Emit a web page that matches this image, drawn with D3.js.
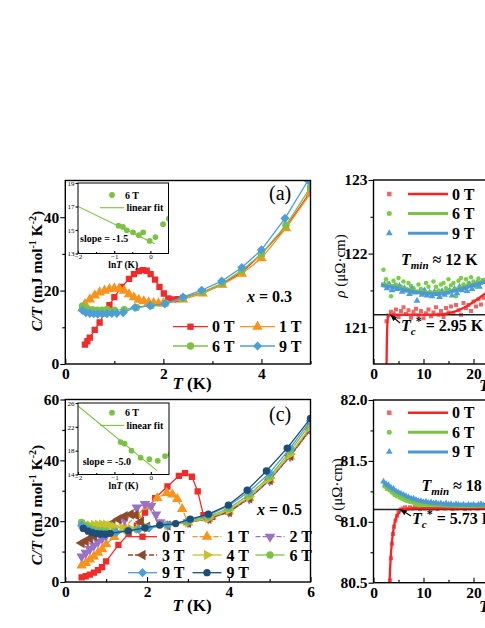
<!DOCTYPE html>
<html><head><meta charset="utf-8">
<script src="https://cdn.jsdelivr.net/npm/d3@7"></script>
<style>body{margin:0;background:#fff}</style>
</head><body><svg id="c" width="485" height="628"></svg>
<script>
// ---------- Panel (a): x = 0.3, C/T vs T ----------
const a_T0 = [0.40,0.45,0.50,0.60,0.70,0.80,0.90,1.00,1.15,1.30,1.40,1.50,1.58,1.66,1.74,1.83,1.92,2.01,2.10,2.20,2.30,2.40,2.80,3.20,3.60,4.00,4.50,5.00];
const a_C0 = [5.3,6.2,7.2,9.3,11.3,13.8,16.0,18.2,21.0,23.2,24.5,25.3,25.6,25.4,24.5,23.0,21.0,19.2,17.9,17.6,17.7,18.0,19.6,21.8,25.0,30.0,37.3,47.0];
const a_T1 = [0.35,0.40,0.50,0.60,0.70,0.80,0.90,1.00,1.10,1.20,1.30,1.40,1.50,1.60,1.70,1.80,1.90,2.00,2.40,2.80,3.20,3.60,4.00,4.50,5.00];
const a_C1 = [15.2,16.3,17.6,18.7,19.5,20.0,20.4,20.6,20.5,20.0,19.0,18.2,17.5,17.1,16.8,16.6,16.5,16.5,17.6,19.2,21.6,24.6,28.8,37.0,46.5];
const a_T6 = [0.35,0.45,0.55,0.65,0.75,0.85,1.00,1.20,1.45,1.75,2.05,2.40,2.80,3.20,3.60,4.00,4.50,5.00];
const a_C6 = [15.8,15.0,14.8,14.7,14.7,14.9,14.7,14.8,15.4,15.9,16.6,17.9,19.6,22.0,25.5,30.0,37.8,48.2];
const a_T9 = [0.35,0.42,0.50,0.58,0.66,0.75,0.85,0.95,1.05,1.18,1.42,1.73,2.03,2.40,2.78,3.19,3.60,4.00,4.48,4.95];
const a_C9 = [14.6,14.0,13.8,13.7,13.6,13.7,13.7,13.8,13.8,14.0,15.4,15.9,16.4,18.2,20.1,22.6,26.3,31.1,39.7,50.0];
// inset (a): 6 T, C/T vs lnT
const a_inLnT = [-0.88,-0.76,-0.65,-0.48,-0.32,-0.20,-0.02,0.14,0.35,0.51];
const a_inC = [15.37,15.26,14.97,14.80,14.56,14.80,14.07,14.40,15.50,15.96];
const a_fitLnT = [-2.0,0.12];
const a_fitC = [17.0,13.82];

// ---------- Panel (c): x = 0.5 ----------
const c_T0 = [0.40,0.50,0.60,0.70,0.80,0.90,1.00,1.30,1.55,1.75,1.95,2.20,2.50,2.78,2.93,3.10,3.24,3.38,3.60,4.00,4.50,5.00,5.50,6.00];
const c_C0 = [1.5,1.9,2.4,3.1,3.9,4.9,6.8,12.2,15.8,18.5,22.8,27.6,31.4,34.9,35.8,34.6,29.8,22.0,21.4,23.2,27.8,33.8,41.5,50.5];
const c_T1 = [0.40,0.50,0.60,0.70,0.80,0.90,1.00,1.20,1.45,1.75,2.00,2.25,2.48,2.62,2.74,2.86,3.00,3.50,4.00,4.50,5.00,5.50,6.00];
const c_C1 = [5.4,6.3,7.4,8.4,9.6,10.8,12.4,14.8,18.0,22.0,24.8,27.6,29.3,28.8,27.3,24.0,19.6,20.8,23.2,27.6,33.6,41.3,50.0];
const c_T2 = [0.40,0.50,0.60,0.70,0.80,0.90,1.00,1.20,1.45,1.75,1.95,2.10,2.22,2.32,2.50,3.00,3.50,4.00,4.50,5.00,5.50,6.00];
const c_C2 = [8.4,9.6,10.8,12.0,13.2,14.3,15.3,17.5,20.6,24.5,25.6,25.0,22.2,19.6,18.8,19.6,20.8,23.0,27.4,33.4,41.3,50.0];
const c_T3 = [0.40,0.50,0.60,0.70,0.80,0.90,1.00,1.15,1.30,1.45,1.60,1.72,1.85,2.00,2.50,3.00,3.50,4.00,4.50,5.00,5.50,6.00];
const c_C3 = [12.8,13.4,14.3,15.2,16.0,16.9,17.8,19.3,20.6,21.6,22.3,22.0,19.8,18.2,18.6,19.5,20.8,23.0,27.5,33.5,41.5,50.2];
const c_T4 = [0.40,0.50,0.60,0.70,0.80,0.90,1.00,1.10,1.20,1.40,1.60,1.80,2.00,2.50,3.00,3.50,4.00,4.50,5.00,5.50,6.00];
const c_C4 = [19.0,18.6,18.6,18.7,18.8,18.9,18.8,18.6,18.2,17.6,17.4,17.5,17.8,18.7,19.6,21.0,23.6,28.0,34.0,42.0,51.0];
const c_T6 = [0.40,0.50,0.60,0.70,0.80,0.90,1.00,1.20,1.50,1.75,2.00,2.50,3.00,3.50,4.00,4.50,5.00,5.50,6.00];
const c_C6 = [19.6,18.6,17.8,17.3,17.0,16.8,16.7,16.6,16.8,17.3,17.7,18.8,19.9,21.4,24.2,28.7,34.6,43.0,52.0];
const c_T9a = [0.40,0.50,0.60,0.70,0.80,0.90,1.00,1.25,1.55,1.80,2.05,2.50,3.00,3.50,4.00,4.50,5.00,5.50,6.00];
const c_C9a = [18.6,17.6,16.9,16.4,16.1,15.9,15.9,16.3,16.9,17.3,17.8,18.8,20.2,22.0,25.0,29.8,35.8,44.0,53.0];
const c_T9b = [0.44,0.56,0.66,0.77,0.87,0.97,1.10,1.54,1.95,2.31,2.70,3.06,3.50,3.99,4.45,4.92,5.43,6.00];
const c_C9b = [17.6,16.7,16.2,15.9,15.8,15.7,16.0,16.8,17.8,18.7,19.2,20.7,22.3,25.3,30.2,36.5,44.0,53.8];
const c_inLnT = [-0.83,-0.72,-0.53,-0.28,-0.04,0.19,0.39,0.54];
const c_inC = [19.44,19.17,18.00,16.83,16.56,16.30,17.10,17.40];
const c_fitLnT = [-2.0,0.17];
const c_fitC = [25.5,14.65];

// ---------- Panel (b): resistivity, x = 0.3 ----------
const b_T0 = [2.6,3.0,3.5,4.0,4.5,5.0,5.5,6.0,6.5,7.0,7.5,8.0,8.5,9.0,9.5,10.0,10.5,11.0,11.5,12.0,12.5,13.0,13.5,14.0,14.5,15.0,15.5,16.0,16.5,17.0,17.5,18.0,18.5,19.0,19.5,20.0,20.5,21.0,21.5,22.0];
const b_R0 = [121.08,121.16,121.21,121.19,121.24,121.14,121.22,121.27,121.18,121.23,121.13,121.21,121.25,121.16,121.22,121.12,121.19,121.24,121.15,121.20,121.27,121.17,121.22,121.14,121.26,121.20,121.28,121.19,121.30,121.23,121.17,121.33,121.26,121.30,121.22,121.35,121.28,121.38,121.31,121.40];
const b_T6 = [2.0,2.5,3.0,3.5,4.0,4.5,5.0,5.5,6.0,6.5,7.0,7.5,8.0,8.5,9.0,9.5,10.0,10.5,11.0,11.5,12.0,12.5,13.0,13.5,14.0,14.5,15.0,15.5,16.0,16.5,17.0,17.5,18.0,18.5,19.0,19.5,20.0,20.5,21.0,21.5,22.0];
const b_R6 = [121.78,121.65,121.60,121.42,121.63,121.58,121.67,121.55,121.62,121.50,121.60,121.56,121.53,121.48,121.58,121.52,121.50,121.60,121.55,121.47,121.62,121.55,121.50,121.58,121.60,121.53,121.65,121.57,121.60,121.42,121.63,121.67,121.58,121.65,121.60,121.68,121.62,121.55,121.66,121.60,121.64];
const b_T9 = [2.2,2.7,3.2,3.7,4.2,4.7,5.2,5.7,6.2,6.7,7.2,7.7,8.2,8.7,9.2,9.7,10.2,10.7,11.2,11.7,12.2,12.7,13.2,13.7,14.2,14.7,15.2,15.7,16.2,16.7,17.2,17.7,18.2,18.7,19.2,19.7,20.2,20.7,21.2,21.7];
const b_R9 = [121.58,121.53,121.57,121.50,121.55,121.52,121.56,121.48,121.53,121.50,121.45,121.52,121.47,121.36,121.48,121.44,121.50,121.43,121.47,121.42,121.48,121.45,121.41,121.49,121.44,121.47,121.50,121.43,121.52,121.46,121.55,121.50,121.53,121.49,121.58,121.52,121.57,121.60,121.55,121.62];
const b_fT0 = [2.60,2.65,2.75,2.90,3.20,6,10,13,15,17,19,21,23,25];
const b_fR0 = [120.40,120.70,121.00,121.14,121.17,121.17,121.17,121.17,121.19,121.23,121.30,121.39,121.49,121.60];
const b_fT = [1.5,4,6,8,10,12,14,16,18,20,22,24];
const b_fR6 = [121.59,121.56,121.53,121.50,121.48,121.47,121.48,121.51,121.55,121.59,121.63,121.68];
const b_fR9 = [121.57,121.54,121.51,121.48,121.46,121.45,121.46,121.49,121.53,121.57,121.61,121.66];
const b_Tc = 121.17;

// ---------- Panel (d): resistivity, x = 0.5 ----------
const d_T0 = [3.3,3.5,3.7,3.9,4.1,4.4,4.7,5.0,5.4,5.8,6.3,6.8,7.3,7.8,8.3,8.8,9.3,9.8,10.3,10.8,11.3,11.8,12.3,12.8,13.3,13.8,14.3,14.8,15.3,15.8,16.3,16.8,17.3,17.8,18.3,18.8,19.3,19.8,20.3,20.8,21.3,21.8];
const d_R0 = [80.52,80.70,80.82,80.90,80.96,81.01,81.05,81.08,81.10,81.11,81.12,81.105,81.12,81.11,81.125,81.115,81.105,81.12,81.11,81.125,81.115,81.11,81.12,81.105,81.12,81.115,81.11,81.125,81.115,81.105,81.12,81.11,81.12,81.115,81.105,81.12,81.11,81.125,81.115,81.11,81.12,81.115];
const d_T6 = [2.2,2.7,3.2,3.7,4.2,4.7,5.2,5.7,6.2,6.7,7.2,7.7,8.2,8.7,9.2,9.7,10.2,10.7,11.2,11.7,12.2,12.7,13.2,13.7,14.2,14.7,15.2,15.7,16.2,16.7,17.2,17.7,18.2,18.7,19.2,19.7,20.2,20.7,21.2,21.7];
const d_R6 = [81.29,81.27,81.26,81.24,81.22,81.21,81.20,81.19,81.18,81.17,81.165,81.16,81.15,81.145,81.13,81.14,81.135,81.13,81.135,81.13,81.125,81.13,81.125,81.13,81.12,81.125,81.13,81.12,81.125,81.12,81.125,81.12,81.125,81.12,81.125,81.12,81.125,81.12,81.125,81.12];
const d_T9 = [2.0,2.5,3.0,3.5,4.0,4.5,5.0,5.5,6.0,6.5,7.0,7.5,8.0,8.5,9.0,9.5,10.0,10.5,11.0,11.5,12.0,12.5,13.0,13.5,14.0,14.5,15.0,15.5,16.0,16.5,17.0,17.5,18.0,18.5,19.0,19.5,20.0,20.5,21.0,21.5,22.0];
const d_R9 = [81.33,81.31,81.30,81.28,81.27,81.25,81.24,81.23,81.22,81.21,81.20,81.19,81.19,81.18,81.17,81.17,81.16,81.165,81.155,81.16,81.15,81.155,81.145,81.15,81.14,81.15,81.14,81.145,81.135,81.145,81.14,81.135,81.14,81.13,81.14,81.135,81.14,81.13,81.14,81.145,81.135];
const d_fT0 = [3.20,3.40,3.70,4.00,4.50,5.00,5.70,8,12,16,20,24];
const d_fR0 = [80.50,80.68,80.84,80.94,81.03,81.07,81.10,81.11,81.11,81.11,81.11,81.11];
const d_fT = [2,3,4,5,6,7,8,10,12,14,16,18,20,22,24];
const d_fR6 = [81.30,81.27,81.245,81.22,81.20,81.18,81.165,81.148,81.138,81.132,81.128,81.126,81.126,81.127,81.13];
const d_fR9 = [81.32,81.29,81.265,81.24,81.22,81.20,81.185,81.165,81.152,81.145,81.14,81.137,81.137,81.139,81.142];
const d_Tc = 81.10;

// ---------- drawing ----------
const FONT = '"Liberation Serif","Times New Roman",serif';
const svg = d3.select('#c').attr('font-family', FONT);
svg.append('rect').attr('width',485).attr('height',628).attr('fill','#fff');
const defs = svg.append('defs');
defs.append('marker').attr('id','arr').attr('viewBox','0 0 10 10').attr('refX',9).attr('refY',5)
  .attr('markerWidth',7).attr('markerHeight',7).attr('markerUnits','userSpaceOnUse').attr('orient','auto')
  .append('path').attr('d','M0,1L10,5L0,9z').attr('fill','#000');

const symType = {square:[d3.symbolSquare,0], circle:[d3.symbolCircle,0], up:[d3.symbolTriangle,0],
  down:[d3.symbolTriangle,180], left:[d3.symbolTriangle,-90], right:[d3.symbolTriangle,90], diamond:[d3.symbolSquare,45]};
function sym(g, kind, cx, cy, size, color){
  const [t, r] = symType[kind];
  g.append('path').attr('d', d3.symbol().type(t).size(size)())
    .attr('transform', `translate(${cx},${cy}) rotate(${r})`).attr('fill', color);
}

function panel(o){
  const x = d3.scaleLinear().domain(o.xd).range([o.l,o.r]);
  const y = d3.scaleLinear().domain(o.yd).range([o.b,o.t]);
  const cid = 'cl'+o.id;
  defs.append('clipPath').attr('id',cid).append('rect').attr('x',o.l).attr('y',o.t).attr('width',o.r-o.l).attr('height',o.b-o.t);
  const dg = svg.append('g').attr('clip-path',`url(#${cid})`);
  const g = svg.append('g');
  const ts = o.ts || 1;
  g.append('g').attr('transform',`translate(0,${o.b})`)
    .call(d3.axisBottom(x).tickValues(o.xminor).tickSizeInner(-3*ts).tickSizeOuter(0).tickFormat(''));
  g.append('g').attr('transform',`translate(${o.l},0)`)
    .call(d3.axisLeft(y).tickValues(o.yminor).tickSizeInner(3*ts).tickSizeOuter(0).tickFormat(''));
  g.append('g').attr('class','xa').attr('transform',`translate(0,${o.b})`)
    .call(d3.axisBottom(x).tickValues(o.xmajor).tickSizeInner(-5*ts).tickSizeOuter(0).tickPadding(o.xpad).tickFormat(o.xfmt));
  g.append('g').attr('class','ya').attr('transform',`translate(${o.l},0)`)
    .call(d3.axisLeft(y).tickValues(o.ymajor).tickSizeInner(5*ts).tickSizeOuter(0).tickPadding(o.ypad).tickFormat(o.yfmt));
  g.selectAll('.domain').remove();
  g.selectAll('.tick line').attr('stroke','#000').attr('stroke-width',1.1);
  g.selectAll('.tick text').attr('font-family',FONT).attr('fill','#000')
    .attr('font-weight',o.tw||'bold').attr('font-size',o.tf||15.5);
  g.append('rect').attr('x',o.l).attr('y',o.t).attr('width',o.r-o.l).attr('height',o.b-o.t)
    .attr('fill','none').attr('stroke','#000').attr('stroke-width',o.fw||1.4);
  return {x,y,g,dg};
}

function curve(P, T, V, s){
  const pts = T.map((t,i)=>[t,V[i]]);
  P.dg.append('path').datum(pts).attr('fill','none').attr('stroke',s.color).attr('stroke-width',1.3)
    .attr('stroke-dasharray',s.dash||null)
    .attr('d', d3.line().x(d=>P.x(d[0])).y(d=>P.y(d[1])));
  pts.forEach(d=>sym(P.dg, s.sym, P.x(d[0]), P.y(d[1]), s.size||40, s.color));
}
function scatter(P, T, V, s){
  T.forEach((t,i)=>sym(P.dg, s.sym, P.x(t), P.y(V[i]), s.size, s.color));
}
function fitline(P, T, V, color, w, op){
  P.dg.append('path').datum(T.map((t,i)=>[t,V[i]])).attr('fill','none').attr('stroke',color)
    .attr('stroke-width',w).attr('stroke-opacity',op||1).attr('stroke-linejoin','round')
    .attr('d', d3.line().curve(d3.curveMonotoneX).x(d=>P.x(d[0])).y(d=>P.y(d[1])));
}
function ctLabel(x, y){
  const t = svg.append('text').attr('transform',`translate(${x},${y}) rotate(-90)`).attr('text-anchor','middle')
    .attr('font-weight','bold').attr('font-size',15.5);
  t.append('tspan').attr('font-style','italic').text('C/T');
  t.append('tspan').text(' (mJ mol');
  t.append('tspan').attr('font-size',10).attr('dy',-6).text('-1');
  t.append('tspan').attr('dy',6).text(' K');
  t.append('tspan').attr('font-size',10).attr('dy',-6).text('-2');
  t.append('tspan').attr('dy',6).text(')');
}
function rhoLabel(x, y){
  const t = svg.append('text').attr('transform',`translate(${x},${y}) rotate(-90)`).attr('text-anchor','middle')
    .attr('font-size',15);
  t.append('tspan').attr('font-style','italic').text('ρ');
  t.append('tspan').text(' (μΩ·cm)');
}
function tkLabel(x, y){
  const t = svg.append('text').attr('x',x).attr('y',y).attr('text-anchor','middle').attr('font-weight','bold').attr('font-size',17);
  t.append('tspan').attr('font-style','italic').text('T');
  t.append('tspan').text(' (K)');
}
function xLabel(x, y, v){
  const t = svg.append('text').attr('x',x).attr('y',y).attr('font-weight','bold').attr('font-size',16);
  t.append('tspan').attr('font-style','italic').text('x');
  t.append('tspan').text(' = '+v);
}
function inset(o, LnT, C, fitX, fitY, slope){
  svg.append('rect').attr('x',o.l).attr('y',o.t).attr('width',o.r-o.l).attr('height',o.b-o.t).attr('fill','#fff');
  const P = panel({id:o.id, l:o.l, r:o.r, t:o.t, b:o.b, xd:[-2,0.5], yd:o.yd,
    xmajor:[-2,-1,0], xminor:[-1.5,-0.5], ymajor:o.yt, yminor:[], xfmt:d3.format('d'), yfmt:d3.format('d'),
    xpad:1, ypad:1, ts:0.5, tf:7, tw:'normal', fw:1});
  P.g.select('.xa').selectAll('text').attr('dy','0.6em');
  P.dg.append('path').datum(fitX.map((t,i)=>[t,fitY[i]])).attr('fill','none').attr('stroke','#7cc242').attr('stroke-width',1.1)
    .attr('d', d3.line().x(d=>P.x(d[0])).y(d=>P.y(d[1])));
  LnT.forEach((t,i)=>sym(P.dg,'circle',P.x(t),P.y(C[i]),26,'#7cc242'));
  // legend
  sym(svg,'circle',o.lx+12,o.ly,26,'#7cc242');
  svg.append('text').attr('x',o.lx+25).attr('y',o.ly+3.5).attr('font-weight','bold').attr('font-size',10).text('6 T');
  svg.append('line').attr('x1',o.lx).attr('x2',o.lx+24).attr('y1',o.ly+12.7).attr('y2',o.ly+12.7).attr('stroke','#7cc242').attr('stroke-width',1.1);
  svg.append('text').attr('x',o.lx+26.5).attr('y',o.ly+16).attr('font-weight','bold').attr('font-size',10).text('linear fit');
  svg.append('text').attr('x',o.sx).attr('y',o.sy).attr('font-weight','bold').attr('font-size',10).text('slope = '+slope);
  const t = svg.append('text').attr('x',(o.l+o.r)/2).attr('y',o.lny).attr('text-anchor','middle').attr('font-weight','bold').attr('font-size',9.5);
  t.append('tspan').text('ln');
  t.append('tspan').attr('font-style','italic').text('T');
  t.append('tspan').text(' (K)');
}

// ---- Panel (a)
const Pa = panel({id:'a', l:65.3, r:310.5, t:180.5, b:364, xd:[0,5], yd:[0,50],
  xmajor:[0,2,4], xminor:[1,3,5], ymajor:[0,20,40], yminor:[10,30],
  xfmt:d3.format('d'), yfmt:d3.format('d'), xpad:4, ypad:1});
const aSer = [
  {T:a_T0, V:a_C0, color:'#f42a2a', sym:'square', size:40, lab:'0 T'},
  {T:a_T1, V:a_C1, color:'#f7941d', sym:'up', size:48, lab:'1 T'},
  {T:a_T6, V:a_C6, color:'#7cc242', sym:'circle', size:42, lab:'6 T'},
  {T:a_T9, V:a_C9, color:'#4a9fd8', sym:'diamond', size:42, lab:'9 T'}
];
aSer.forEach(s=>curve(Pa, s.T, s.V, s));
[[173,326.7],[240,326.7],[173,346],[240,346]].forEach(([lx,ly],i)=>{
  const s = aSer[i];
  svg.append('line').attr('x1',lx).attr('x2',lx+35).attr('y1',ly).attr('y2',ly).attr('stroke',s.color).attr('stroke-width',1.3);
  sym(svg, s.sym, lx+17.5, ly, s.size, s.color);
  svg.append('text').attr('x',lx+39).attr('y',ly+5.5).attr('font-weight','bold').attr('font-size',16).text(s.lab);
});
xLabel(247, 302, '0.3');
svg.append('text').attr('x',269).attr('y',200).attr('font-size',20).text('(a)');
ctLabel(42, 271);
tkLabel(192, 389);
inset({id:'ai', l:78, r:168.5, t:183, b:253.5, yd:[13,19], yt:[13,15,17,19], lx:100, ly:195, sx:80, sy:241.5, lny:267.5},
  a_inLnT, a_inC, a_fitLnT, a_fitC, '-1.5');

// ---- Panel (c)
const Pc = panel({id:'c', l:65.3, r:310.5, t:399.5, b:582, xd:[0,6], yd:[0,60],
  xmajor:[0,2,4,6], xminor:[1,3,5], ymajor:[0,20,40,60], yminor:[10,30,50],
  xfmt:d3.format('d'), yfmt:d3.format('d'), xpad:4, ypad:1});
const cSer = [
  {T:c_T0, V:c_C0, color:'#f42a2a', sym:'square', size:40, lab:'0 T'},
  {T:c_T1, V:c_C1, color:'#f7941d', sym:'up', size:48, lab:'1 T', dash:'5,2'},
  {T:c_T2, V:c_C2, color:'#9b70c8', sym:'down', size:48, lab:'2 T', dash:'5,2'},
  {T:c_T3, V:c_C3, color:'#8e4b2c', sym:'left', size:48, lab:'3 T', dash:'5,2'},
  {T:c_T4, V:c_C4, color:'#c5c22e', sym:'right', size:48, lab:'4 T'},
  {T:c_T6, V:c_C6, color:'#7cc242', sym:'circle', size:42, lab:'6 T'},
  {T:c_T9a, V:c_C9a, color:'#4a9fd8', sym:'diamond', size:42, lab:'9 T'},
  {T:c_T9b, V:c_C9b, color:'#1e4d78', sym:'circle', size:42, lab:'9 T'}
];
cSer.forEach(s=>curve(Pc, s.T, s.V, s));
const cCols = [128, 192.5, 255.5], cRows = [536.7, 555, 572.7];
cSer.forEach((s,i)=>{
  const lx = cCols[i%3], ly = cRows[Math.floor(i/3)];
  svg.append('line').attr('x1',lx).attr('x2',lx+29).attr('y1',ly).attr('y2',ly).attr('stroke',s.color).attr('stroke-width',1.3).attr('stroke-dasharray',s.dash||null);
  sym(svg, s.sym, lx+14.5, ly, s.size, s.color);
  svg.append('text').attr('x',lx+34).attr('y',ly+5.5).attr('font-weight','bold').attr('font-size',16).text(s.lab);
});
xLabel(257, 515, '0.5');
svg.append('text').attr('x',269).attr('y',421).attr('font-size',20).text('(c)');
ctLabel(42, 505);
tkLabel(192, 611);
inset({id:'ci', l:78, r:169, t:403, b:474.5, yd:[14,26], yt:[14,18,22,26], lx:100, ly:412.7, sx:82.7, sy:465, lny:489},
  c_inLnT, c_inC, c_fitLnT, c_fitC, '-5.0');

// ---- Panel (b)
const Pb = panel({id:'b', l:373.5, r:623.5, t:180, b:364, xd:[0,50], yd:[120.5,123],
  xmajor:[0,10,20], xminor:[5,15,25], ymajor:[121,122,123], yminor:[121.5,122.5],
  xfmt:d3.format('d'), yfmt:d3.format('d'), xpad:4, ypad:1});
const rCol = {r:'#f26464', g:'#78cf45', b:'#4aa0de', rl:'#ff2020', gl:'#7cc242', bl:'#4a98d4'};
scatter(Pb, b_T0, b_R0, {sym:'square', size:16, color:rCol.r});
scatter(Pb, b_T6, b_R6, {sym:'circle', size:16, color:rCol.g});
scatter(Pb, b_T9, b_R9, {sym:'up', size:20, color:rCol.b});
Pb.dg.append('line').attr('x1',Pb.x(0)).attr('x2',Pb.x(50)).attr('y1',Pb.y(b_Tc)).attr('y2',Pb.y(b_Tc)).attr('stroke','#222').attr('stroke-width',1.5);
fitline(Pb, b_fT0, b_fR0, rCol.rl, 2.3);
fitline(Pb, b_fT, b_fR6, rCol.gl, 3);
fitline(Pb, b_fT, b_fR9, rCol.bl, 3.5, 0.95);

// ---- Panel (d)
const Pd = panel({id:'d', l:373.5, r:623.5, t:400, b:582.7, xd:[0,50], yd:[80.5,82.0],
  xmajor:[0,10,20], xminor:[5,15,25], ymajor:[80.5,81.0,81.5,82.0], yminor:[80.75,81.25,81.75],
  xfmt:d3.format('d'), yfmt:d3.format('.1f'), xpad:4, ypad:1});
scatter(Pd, d_T0, d_R0, {sym:'square', size:16, color:rCol.r});
scatter(Pd, d_T6, d_R6, {sym:'circle', size:16, color:rCol.g});
scatter(Pd, d_T9, d_R9, {sym:'up', size:20, color:rCol.b});
Pd.dg.append('line').attr('x1',Pd.x(0)).attr('x2',Pd.x(50)).attr('y1',Pd.y(d_Tc)).attr('y2',Pd.y(d_Tc)).attr('stroke','#222').attr('stroke-width',1.5);
fitline(Pd, d_fT0, d_fR0, rCol.rl, 2.3);
fitline(Pd, d_fT, d_fR6, rCol.gl, 3);
fitline(Pd, d_fT, d_fR9, rCol.bl, 3.5, 0.95);

// legends for b and d
function rhoLegend(y0){
  const items = [['square',rCol.r,rCol.rl,'0 T',2.5],['circle',rCol.g,rCol.gl,'6 T',3],['up',rCol.b,rCol.bl,'9 T',3]];
  items.forEach(([k,pc,lc,lab,w],i)=>{
    const y = y0 + i*19.6;
    sym(svg, k, 389.3, y, 20, pc);
    svg.append('line').attr('x1',408).attr('x2',448).attr('y1',y).attr('y2',y).attr('stroke',lc).attr('stroke-width',w);
    svg.append('text').attr('x',452).attr('y',y+5.5).attr('font-weight','bold').attr('font-size',16).text(lab);
  });
}
rhoLegend(194);
rhoLegend(412.7);
function tmin(x, y, v){
  const t = svg.append('text').attr('x',x).attr('y',y).attr('font-weight','bold').attr('font-size',16);
  t.append('tspan').attr('font-style','italic').text('T');
  t.append('tspan').attr('font-style','italic').attr('font-size',11).attr('dy',4).text('min');
  t.append('tspan').attr('dy',-4).text(' ≈ '+v+' K');
}
function tc(x, y, v, ax, ay){
  const t = svg.append('text').attr('x',x).attr('y',y).attr('font-weight','bold').attr('font-size',16);
  t.append('tspan').attr('font-style','italic').text('T');
  t.append('tspan').attr('font-style','italic').attr('font-size',11).attr('dy',4).text('c');
  t.append('tspan').attr('font-size',12).attr('dy',-10).text('*');
  t.append('tspan').attr('dy',6).text(' = '+v+' K');
  svg.append('line').attr('x1',x-1).attr('y1',y-8).attr('x2',ax).attr('y2',ay).attr('stroke','#000').attr('stroke-width',1.1).attr('marker-end','url(#arr)');
}
tmin(401, 265, '12');
tc(401, 331, '2.95', 390.5, 315);
tmin(421.5, 491, '18');
tc(412, 524, '5.73', 400.5, 509.5);
rhoLabel(345, 266);
rhoLabel(342, 490);
svg.append('text').attr('x',479).attr('y',391).attr('font-weight','bold').attr('font-style','italic').attr('font-size',17).text('T');
svg.append('text').attr('x',479).attr('y',612).attr('font-weight','bold').attr('font-style','italic').attr('font-size',17).text('T');
</script></body></html>
